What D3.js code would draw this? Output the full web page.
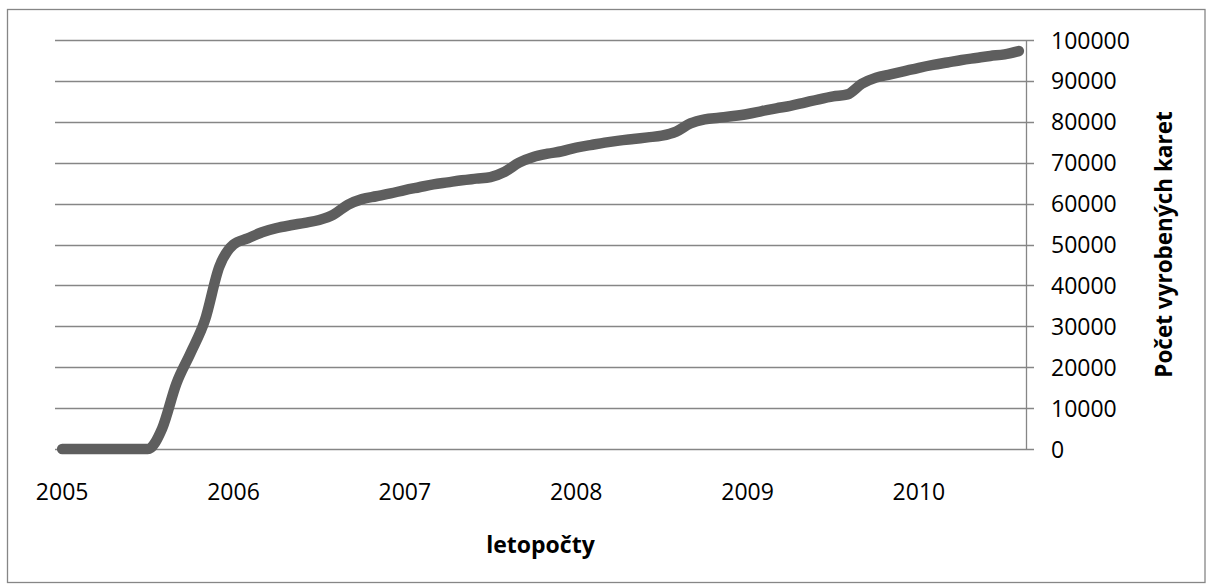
<!DOCTYPE html>
<html>
<head>
<meta charset="utf-8">
<script src="https://cdn.jsdelivr.net/npm/d3@7"></script>
<style>
  html, body { margin: 0; padding: 0; background: #fff; }
  svg { display: block; }
  text { font-family: "Open Sans", "Noto Sans", sans-serif; fill: #000; }
</style>
</head>
<body>
<svg id="chart" width="1206" height="585"></svg>
<script>
// ---- data ----
const years = ["2005", "2006", "2007", "2008", "2009", "2010"];
const monthsPerYear = ["01","02","03","04","05","06","07","08","09","10","11","12"];
// monthly categories Jan 2005 .. Aug 2010
const categories = [];
years.forEach(yr => monthsPerYear.forEach(m => categories.push(yr + "-" + m)));
categories.splice(68);

const values = [
  0, 0, 0, 0, 0, 0, 0, 5000, 16000, 23500, 31500, 44500,
  50000, 51500, 53000, 54000, 54700, 55300, 56000, 57300, 59700, 61100, 61800, 62500,
  63300, 64000, 64700, 65200, 65700, 66100, 66500, 67800, 70000, 71400, 72200, 72800,
  73700, 74300, 74900, 75400, 75800, 76200, 76600, 77600, 79600, 80600, 81000, 81400,
  81900, 82600, 83300, 83900, 84700, 85500, 86200, 86700, 89300, 90800, 91600, 92400,
  93200, 93900, 94500, 95100, 95600, 96100, 96500, 97300
];
const yTicks = [0, 10000, 20000, 30000, 40000, 50000, 60000, 70000, 80000, 90000, 100000];
const xTickLabels = years;
const xTitle = "letopočty";
const yTitle = "Počet vyrobených karet";

// ---- layout ----
const svg = d3.select("#chart");
const plot = { left: 55, right: 1026, top: 40, bottom: 449 };

const x = d3.scaleBand().domain(categories).range([plot.left, plot.right]).padding(0);
const y = d3.scaleLinear().domain([0, 100000]).range([plot.bottom, plot.top]);

// outer chart border
svg.append("rect")
  .attr("x", 7.5).attr("y", 9.5)
  .attr("width", 1197.5).attr("height", 573)
  .attr("fill", "none").attr("stroke", "#868686").attr("stroke-width", 1.3);

// gridlines + right tick marks
svg.append("g").selectAll("line")
  .data(yTicks)
  .join("line")
  .attr("x1", plot.left).attr("x2", plot.right + 8)
  .attr("y1", d => Math.round(y(d)) + 0.5).attr("y2", d => Math.round(y(d)) + 0.5)
  .attr("stroke", "#868686").attr("stroke-width", 1.3);

// right axis line
svg.append("line")
  .attr("x1", plot.right + 0.5).attr("x2", plot.right + 0.5)
  .attr("y1", y(100000)).attr("y2", y(0))
  .attr("stroke", "#868686").attr("stroke-width", 1.3);

// right axis labels
svg.append("g").selectAll("text")
  .data(yTicks)
  .join("text")
  .attr("x", 1051)
  .attr("y", d => y(d) + 8.5)
  .attr("font-size", "23px")
  .text(d => d);

// x labels (every 12th category)
svg.append("g").selectAll("text")
  .data(xTickLabels)
  .join("text")
  .attr("x", (d, i) => x(categories[i * 12]) + x.bandwidth() / 2)
  .attr("y", 500)
  .attr("text-anchor", "middle")
  .attr("font-size", "23px")
  .text(d => d);

// line
const line = d3.line()
  .x((d, i) => x(categories[i]) + x.bandwidth() / 2)
  .y(d => y(d))
  .curve(d3.curveMonotoneX);

svg.append("path")
  .datum(values)
  .attr("d", line)
  .attr("fill", "none")
  .attr("stroke", "#5e5e5e")
  .attr("stroke-width", 10.5)
  .attr("stroke-linecap", "round")
  .attr("stroke-linejoin", "round");

// axis titles
svg.append("text")
  .attr("x", (plot.left + plot.right) / 2)
  .attr("y", 553)
  .attr("text-anchor", "middle")
  .attr("font-size", "23px")
  .attr("font-weight", "bold")
  .text(xTitle);

svg.append("text")
  .attr("transform", `translate(1172, ${(plot.top + plot.bottom) / 2}) rotate(-90)`)
  .attr("text-anchor", "middle")
  .attr("font-size", "22.5px")
  .attr("font-weight", "bold")
  .text(yTitle);
</script>
</body>
</html>
